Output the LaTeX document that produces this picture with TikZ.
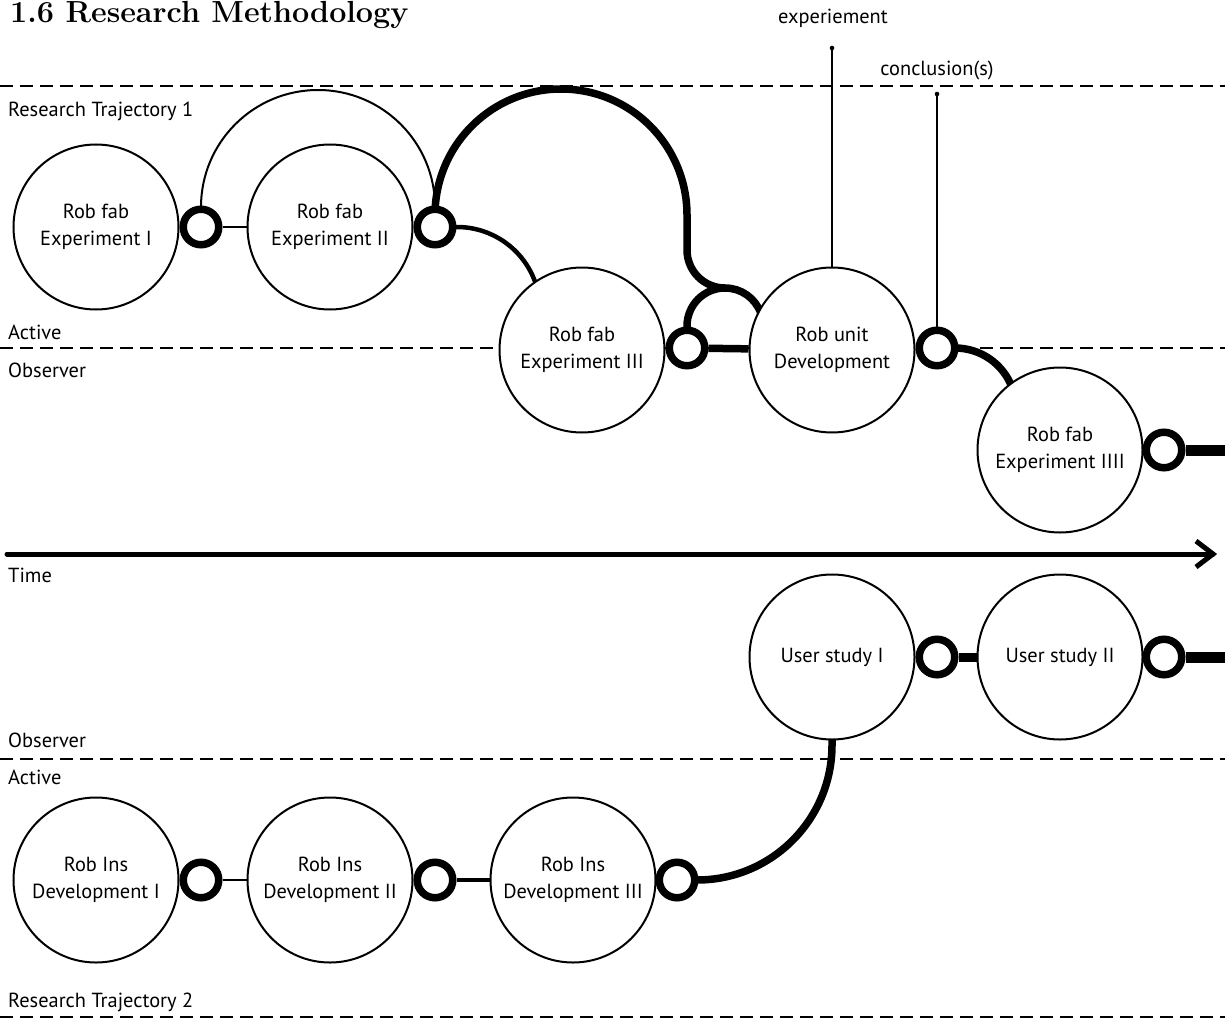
\documentclass[tikz,border=0pt]{standalone}
\usepackage{fontspec}
\newfontfamily\labelfont{PT Sans}
\pgfdeclarelayer{back}
\pgfsetlayers{back,main}
\begin{document}
\begin{tikzpicture}[x=1pt,y=-1pt,
  guide/.style={line width=2.2pt, dash pattern=on 13pt off 7pt},
  stage/.style={circle, draw, line width=2pt, fill=white, minimum size=165pt,
    inner sep=0pt, align=center, font=\labelfont\fontsize{20.4}{27}\selectfont},
  joint/.style={circle, draw, line width=7.5pt, fill=white, minimum size=35.5pt, inner sep=0pt},
  lbl/.style={anchor=base west, inner sep=0pt, font=\labelfont\fontsize{20.4}{24}\selectfont},
  toplbl/.style={anchor=base, inner sep=0pt, font=\labelfont\fontsize{20.4}{24}\selectfont},
  link/.style={line width=2pt},
  midlink/.style={line width=4.5pt},
  heavylink/.style={line width=7.5pt},
  barlink/.style={line width=9pt},
  endlink/.style={line width=11pt},
  lead/.style={line width=1.4pt},
  timeline/.style={line width=5pt},
]
\useasboundingbox (0,0) rectangle (1225,1022);

% title
\node[anchor=base west, inner sep=0pt, font=\bfseries\fontsize{30.5}{36}\selectfont]
  (title) at (10,23) {1.6 Research Methodology};

% research trajectory 1
\node[stage] (e1) at (96,227) {Rob fab\\Experiment I};
\node[joint] (j1) at (201,227) {};
\node[stage] (e2) at (330,227) {Rob fab\\Experiment II};
\node[joint] (j2) at (435,227) {};
\node[stage] (e3) at (582,350) {Rob fab\\Experiment III};
\node[joint] (j3) at (687,348) {};
\node[stage] (unit) at (832,350) {Rob unit\\Development};
\node[joint] (j4) at (937,348) {};
\node[stage] (e4) at (1060,450) {Rob fab\\Experiment IIII};
\node[joint] (j5) at (1164,450) {};

% research trajectory 2
\node[stage] (u1) at (832,657) {User study I};
\node[joint] (j6) at (937,657) {};
\node[stage] (u2) at (1060,657) {User study II};
\node[joint] (j7) at (1164,657) {};
\node[stage] (d1) at (96,880) {Rob Ins\\Development I};
\node[joint] (j8) at (201,880) {};
\node[stage] (d2) at (330,880) {Rob Ins\\Development II};
\node[joint] (j9) at (435,880) {};
\node[stage] (d3) at (573,880) {Rob Ins\\Development III};
\node[joint] (j10) at (677,880) {};

% free ends
\coordinate (exptop) at (832,48);
\coordinate (conctop) at (937,94);
\coordinate (out1) at (1225,450);
\coordinate (out2) at (1225,657);
\coordinate (t0) at (7,554);
\coordinate (t1) at (1213,554);

% lane labels
\node[lbl] (rt1) at (8,117) {Research Trajectory 1};
\node[lbl] (act1) at (8,339) {Active};
\node[lbl] (obs1) at (8,377) {Observer};
\node[lbl] (time) at (8,582) {Time};
\node[lbl] (obs2) at (8,747) {Observer};
\node[lbl] (act2) at (8,784) {Active};
\node[lbl] (rt2) at (8,1007) {Research Trajectory 2};
\node[toplbl] (lexp) at (833,24) {experiement};
\node[toplbl] (lconc) at (937,76) {conclusion(s)};

\begin{pgfonlayer}{back}
  % lane boundaries
  \draw[guide] (0,86) -- (1225,86);
  \draw[guide] (0,348) -- (1225,348);
  \draw[guide] (0,759) -- (1225,759);
  \draw[guide] (0,1017) -- (1225,1017);

  % time axis
  \draw[timeline, line cap=round] (t0) -- (t1);
  \draw[timeline, line join=miter] (t1) ++(-17,-13) -- (t1) -- ++(-17,13);

  % trajectory 1 links
  \draw[link] (j1) -- (e2);
  \draw[link] (j1.center) -- ++(0,-20) arc[start angle=180, end angle=360, radius=117] -- (j2.center);
  \draw[midlink] (j2.center) -- ++(22,0) arc[start angle=-90, end angle=-15, radius=83];
  \draw[heavylink] (j2.center) -- ++(0,-12)
    arc[start angle=180, end angle=360, radius=126] -- ++(0,35)
    arc[start angle=180, end angle=90, radius=38]
    arc[start angle=-90, end angle=-20, radius=38];
  \draw[heavylink] (j3.center) -- ++(0,-22) arc[start angle=180, end angle=270, radius=38];
  \draw[heavylink] (j3) -- (unit);
  \draw[lead] (unit.center) -- (exptop);
  \fill (exptop) circle[radius=2.3];
  \draw[lead] (j4.center) -- (conctop);
  \fill (conctop) circle[radius=2.3];
  \draw[heavylink] (j4.center) -- ++(18,0) arc[start angle=-90, end angle=-20, radius=61];
  \draw[endlink] (j5) -- (out1);

  % trajectory 2 links
  \draw[barlink] (j6) -- (u2);
  \draw[endlink] (j7) -- (out2);
  \draw[link] (j8) -- (d2);
  \draw[midlink] (j9) -- (d3);
  \draw[heavylink] (j10.center) -- ++(20,0) arc[start angle=90, end angle=0, radius=135] -- (u1.center);
\end{pgfonlayer}
\end{tikzpicture}
\end{document}
